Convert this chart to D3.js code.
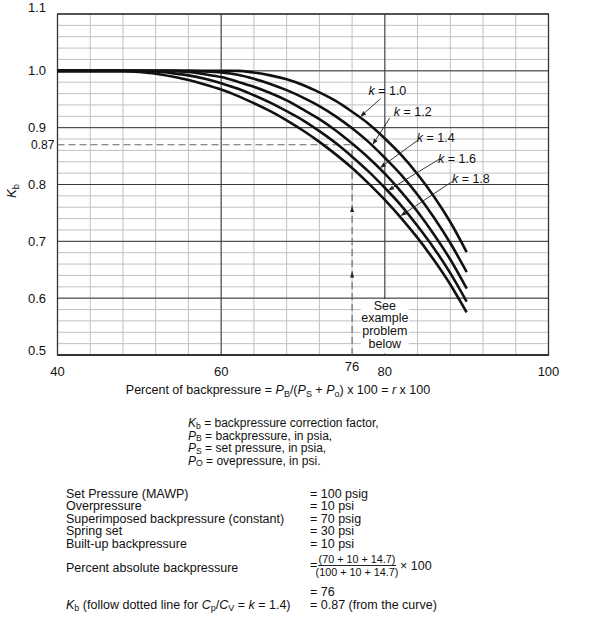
<!DOCTYPE html>
<html>
<head>
<meta charset="utf-8">
<script src="https://cdn.jsdelivr.net/npm/d3@7"></script>
<style>
  body { margin: 0; background: #fff; }
  svg { font-family: "Liberation Sans", Arial, sans-serif; fill: #111; }
</style>
</head>
<body>
<svg id="chart" width="590" height="636"></svg>
<script>
// percent of backpressure (shared x values of every curve)
const pct = [40, 46, 48, 50, 52, 54, 56, 58, 60, 62, 64, 66, 68, 70, 72, 74, 76, 78, 80, 82, 84, 86, 88, 90]

// Kb, one list per k
const kb10 = [1, 1, 1, 1, 1, 1, 1, 1, 1, 1.000, 0.997, 0.992, 0.985, 0.975, 0.962, 0.947, 0.928, 0.907, 0.881, 0.852, 0.818, 0.779, 0.734, 0.681]
const kb12 = [1, 1, 1, 1, 1, 1, 1, 0.999, 0.997, 0.993, 0.986, 0.977, 0.966, 0.953, 0.938, 0.920, 0.899, 0.875, 0.847, 0.817, 0.782, 0.742, 0.697, 0.646]
const kb14 = [1, 1, 1, 1, 1, 1.000, 0.998, 0.994, 0.989, 0.981, 0.972, 0.961, 0.948, 0.932, 0.915, 0.895, 0.872, 0.847, 0.819, 0.787, 0.752, 0.712, 0.668, 0.617]
const kb16 = [1, 1, 1, 1, 0.999, 0.996, 0.992, 0.986, 0.978, 0.969, 0.957, 0.944, 0.929, 0.913, 0.894, 0.873, 0.849, 0.823, 0.794, 0.763, 0.727, 0.688, 0.644, 0.594]
const kb18 = [1, 1, 1.000, 0.998, 0.995, 0.990, 0.984, 0.976, 0.967, 0.956, 0.943, 0.929, 0.913, 0.895, 0.875, 0.853, 0.829, 0.802, 0.773, 0.741, 0.706, 0.667, 0.624, 0.575]

const kNames = ['1.0', '1.2', '1.4', '1.6', '1.8']
const kSeries = [kb10, kb12, kb14, kb16, kb18]

// where each k label arrow touches its curve, and where the label sits
const tipPct = [77, 78.5, 79.4, 80.4, 81.9]
const labelPct = [78.0, 81.1, 83.9, 86.5, 88.2]
const labelKb = [0.957, 0.920, 0.875, 0.837, 0.802]

const xTicks = [40, 60, 80, 100]
const yTicks = [0.5, 0.6, 0.7, 0.8, 0.9, 1.0, 1.1]

// worked example
const examplePct = 76
const exampleKb = 0.87
const arrowKb = [0.755, 0.64]
const noteLines = ['See', 'example', 'problem', 'below']

const exampleItems = ['Set Pressure (MAWP)', 'Overpressure', 'Superimposed backpressure (constant)', 'Spring set', 'Built-up backpressure']
const exampleValues = ['= 100 psig', '= 10 psi', '= 70 psig', '= 30 psi', '= 10 psi']

const svg = d3.select('#chart')
const x = d3.scaleLinear().domain([40, 100]).range([57.5, 548.5])
const y = d3.scaleLinear().domain([0.5, 1.1]).range([355, 14])

// text with italic / subscript pieces: parts = [[string, 'n'|'i'|'sub']]
function rich(g, px, py, parts, size, shift) {
  const sh = shift || 2.5
  const t = g.append('text').attr('x', px).attr('y', py).attr('font-size', size || 12.5)
  let down = false
  parts.forEach(([s, st]) => {
    const ts = t.append('tspan').text(s)
    if (st === 'i') ts.attr('font-style', 'italic')
    if (st === 'sub') {
      ts.attr('font-size', '0.72em').attr('dy', sh)
      down = true
    } else if (down) {
      ts.attr('dy', -sh)
      down = false
    }
  })
  return t
}

// grid
const grid = svg.append('g')
const xMinor = d3.range(40, 101, 4)
const yMinor = d3.range(0, 31).map(i => +(0.5 + i * 0.02).toFixed(2))
grid.selectAll('line.vx').data(xMinor).enter().append('line')
  .attr('x1', d => x(d)).attr('x2', d => x(d))
  .attr('y1', y(1.1)).attr('y2', y(0.5))
  .attr('stroke', '#c0c0c8')
  .attr('stroke-width', 1)
grid.selectAll('line.hy').data(yMinor).enter().append('line')
  .attr('x1', x(40)).attr('x2', x(100))
  .attr('y1', d => y(d)).attr('y2', d => y(d))
  .attr('stroke', '#c0c0c8')
  .attr('stroke-width', 1)
grid.selectAll('line.mx').data(xTicks).enter().append('line')
  .attr('x1', d => x(d)).attr('x2', d => x(d))
  .attr('y1', y(1.1)).attr('y2', y(0.5))
  .attr('stroke', '#3a3a3a')
grid.selectAll('line.my').data(yTicks).enter().append('line')
  .attr('x1', x(40)).attr('x2', x(100))
  .attr('y1', d => y(d)).attr('y2', d => y(d))
  .attr('stroke', '#3a3a3a')

svg.append('rect')
  .attr('x', x(40)).attr('y', y(1.1))
  .attr('width', x(100) - x(40)).attr('height', y(0.5) - y(1.1))
  .attr('fill', 'none').attr('stroke', '#333').attr('stroke-width', 1.3)
svg.append('line')
  .attr('x1', x(40)).attr('x2', x(100)).attr('y1', y(0.5)).attr('y2', y(0.5))
  .attr('stroke', '#333').attr('stroke-width', 1.8)

// note box behind "See example problem below"
svg.append('rect')
  .attr('x', x(80) - 24).attr('y', y(0.6) + 1)
  .attr('width', 48).attr('height', y(0.5) - y(0.6) - 2.5)
  .attr('fill', '#fff')
svg.append('g').selectAll('text').data(noteLines).enter().append('text')
  .attr('x', x(80)).attr('y', (d, i) => y(0.6) + 11.5 + i * 12.8)
  .attr('text-anchor', 'middle').attr('font-size', 12.5)
  .text(d => d)

// dashed guide for the example
const dash = svg.append('g').attr('stroke', '#666').attr('stroke-width', 1.1).attr('stroke-dasharray', '7,4')
dash.append('line')
  .attr('x1', x(40)).attr('x2', x(examplePct))
  .attr('y1', y(exampleKb)).attr('y2', y(exampleKb))
dash.append('line')
  .attr('x1', x(examplePct)).attr('x2', x(examplePct))
  .attr('y1', y(0.5)).attr('y2', y(exampleKb))
svg.append('g').selectAll('path').data(arrowKb).enter().append('path')
  .attr('d', d => `M${x(examplePct)},${y(d) - 4} l-2,6 l4,0 z`)
  .attr('fill', '#222')

// curves
const line = d3.line()
  .x((d, i) => x(pct[i]))
  .y(d => y(d))
  .curve(d3.curveMonotoneX)
svg.append('g').selectAll('path').data(kSeries).enter().append('path')
  .attr('d', d => line(d))
  .attr('fill', 'none')
  .attr('stroke', '#111')
  .attr('stroke-width', 2.6)

// k labels with arrows
const arrowStart = [[12, 3.5], [-4, 1.5], [1.5, -2], [1.5, -4.5], [0.5, -2]]
const lab = svg.append('g')
kNames.forEach((name, i) => {
  const series = kSeries[i]
  const tx = x(tipPct[i])
  const ty = y(d3.scaleLinear().domain(pct).range(series)(tipPct[i])) - 1
  const lx = x(labelPct[i])
  const ly = y(labelKb[i])
  rich(lab, lx, ly, [['k', 'i'], [' = ' + name, 'n']], 12.5)
  const sx = lx + arrowStart[i][0]
  const sy = ly + arrowStart[i][1]
  const ang = Math.atan2(ty - sy, tx - sx)
  const hl = 6, hw = 2.2
  const bx = tx - hl * Math.cos(ang), by = ty - hl * Math.sin(ang)
  lab.append('line')
    .attr('x1', sx).attr('y1', sy).attr('x2', bx).attr('y2', by)
    .attr('stroke', '#222').attr('stroke-width', 0.9)
  lab.append('path')
    .attr('d', `M${tx},${ty} L${bx - hw * Math.sin(ang)},${by + hw * Math.cos(ang)} L${bx + hw * Math.sin(ang)},${by - hw * Math.cos(ang)} Z`)
    .attr('fill', '#222')
})

// tick labels
svg.append('g').selectAll('text').data(xTicks).enter().append('text')
  .attr('x', d => x(d)).attr('y', 375.5)
  .attr('text-anchor', 'middle').attr('font-size', 13)
  .text(d => d)
svg.append('text')
  .attr('x', x(examplePct)).attr('y', 371)
  .attr('text-anchor', 'middle').attr('font-size', 13)
  .text(examplePct)
svg.append('g').selectAll('text').data(yTicks).enter().append('text')
  .attr('x', 28)
  .attr('y', d => y(d) + (d === 1.1 ? -2.3 : d === 0.5 ? 0 : 4.5))
  .attr('font-size', 13)
  .text(d => d.toFixed(1))
svg.append('text')
  .attr('x', 31).attr('y', y(exampleKb) + 4.2)
  .attr('font-size', 12)
  .text(exampleKb.toFixed(2))

// axis titles
const yt = svg.append('g').attr('transform', 'translate(16,191) rotate(-90)')
rich(yt, 0, 0, [['K', 'i'], ['b', 'sub']], 13).attr('text-anchor', 'middle')

rich(svg, 278, 394, [
  ['Percent of backpressure = ', 'n'], ['P', 'i'], ['B', 'sub'], ['/(', 'n'],
  ['P', 'i'], ['S', 'sub'], [' + ', 'n'], ['P', 'i'], ['o', 'sub'],
  [') x 100 = ', 'n'], ['r', 'i'], [' x 100', 'n']
], 12.5).attr('text-anchor', 'middle')

// definitions
const defs = [
  [['K', 'i'], ['b', 'sub'], [' = backpressure correction factor,', 'n']],
  [['P', 'i'], ['B', 'sub'], [' = backpressure, in psia,', 'n']],
  [['P', 'i'], ['S', 'sub'], [' = set pressure, in psia,', 'n']],
  [['P', 'i'], ['O', 'sub'], [' = ovepressure, in psi.', 'n']]
]
defs.forEach((p, i) => rich(svg, 188, 427 + i * 12.5, p, 12, 1.8))

// example problem
const ex = svg.append('g').attr('font-size', 12.5)
ex.selectAll('text.item').data(exampleItems).enter().append('text')
  .attr('x', 66).attr('y', (d, i) => 497.5 + i * 12.6).text(d => d)
ex.selectAll('text.val').data(exampleValues).enter().append('text')
  .attr('x', 310).attr('y', (d, i) => 497.5 + i * 12.6).text(d => d)

ex.append('text').attr('x', 66).attr('y', 572).text('Percent absolute backpressure')
ex.append('text').attr('x', 310).attr('y', 568.5).text('=')
ex.append('text').attr('x', 357).attr('y', 562.5).attr('text-anchor', 'middle').attr('font-size', 10.8).text('(70 + 10 + 14.7)')
ex.append('line').attr('x1', 318).attr('x2', 396).attr('y1', 565.5).attr('y2', 565.5).attr('stroke', '#111').attr('stroke-width', 0.9)
ex.append('text').attr('x', 357).attr('y', 575.5).attr('text-anchor', 'middle').attr('font-size', 10.8).text('(100 + 10 + 14.7)')
ex.append('text').attr('x', 400).attr('y', 569.5).text('\u00d7 100')

ex.append('text').attr('x', 310).attr('y', 595.5).text('= ' + examplePct)
rich(ex, 66, 608.5, [
  ['K', 'i'], ['b', 'sub'], [' (follow dotted line for ', 'n'], ['C', 'i'], ['p', 'sub'],
  ['/', 'n'], ['C', 'i'], ['V', 'sub'], [' = ', 'n'], ['k', 'i'], [' = 1.4)', 'n']
], 12.5)
ex.append('text').attr('x', 310).attr('y', 608.5).text('= ' + exampleKb + ' (from the curve)')
</script>
</body>
</html>
